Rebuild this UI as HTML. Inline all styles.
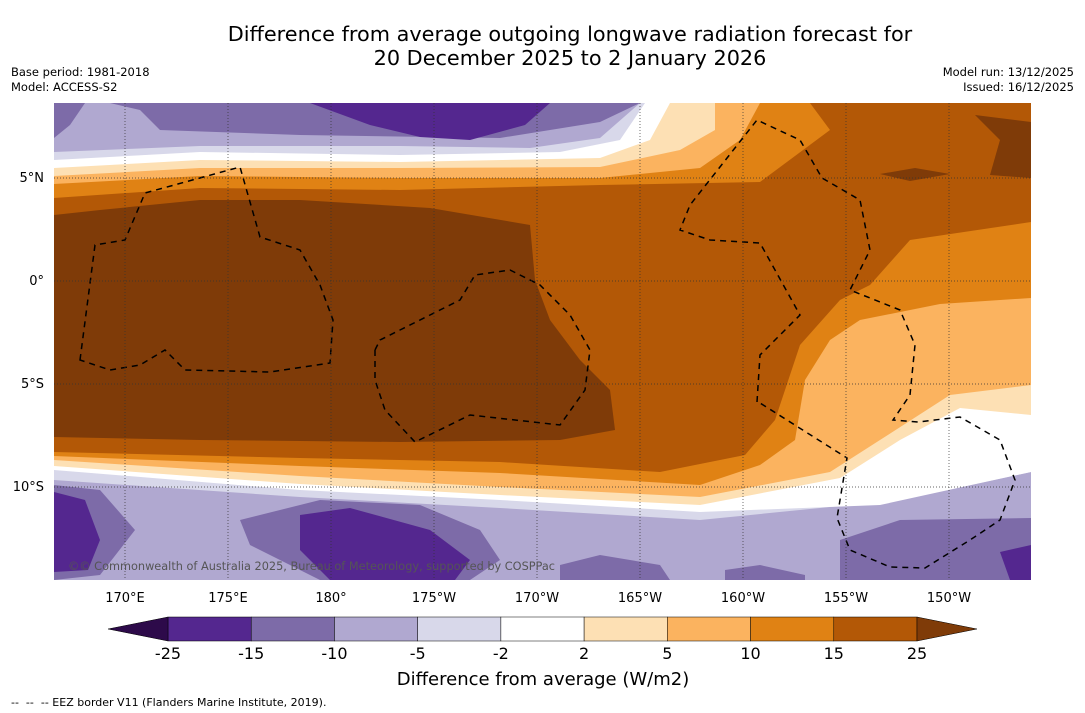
<!DOCTYPE html>
<html><head><meta charset="utf-8"><style>
body{margin:0;background:#fff;font-family:"DejaVu Sans","Liberation Sans",sans-serif;}
#wrap{position:relative;width:1085px;height:713px;overflow:hidden;background:#fff}
.t{position:absolute;color:#000;white-space:nowrap}
svg text{font-family:"DejaVu Sans","Liberation Sans",sans-serif;}
</style></head><body>
<div id="wrap">
<div class="t" style="left:0;width:1140px;top:22px;text-align:center;font-size:20.8px;line-height:24px">Difference from average outgoing longwave radiation forecast for<br>20 December 2025 to 2 January 2026</div>
<div class="t" style="left:11px;top:65px;font-size:11.5px;line-height:15px">Base period: 1981-2018<br>Model: ACCESS-S2</div>
<div class="t" style="right:11px;top:65px;font-size:11.5px;line-height:15px;text-align:right">Model run: 13/12/2025<br>Issued: 16/12/2025</div>
<svg id="map" width="1085" height="713" style="position:absolute;left:0;top:0">
<defs><clipPath id="mc"><rect x="54" y="103" width="977" height="477"/></clipPath></defs>
<g clip-path="url(#mc)">
<rect x="54" y="103" width="977" height="477" fill="#b0a8d0"/>
<path fill="#7d6ba8" d="M85,103 L640,103 L600,122 L500,138 L300,135 L160,130 L140,110 L110,103 Z M54,103 L85,103 L70,125 L54,138 Z"/>
<path fill="#54278f" d="M310,103 L550,103 L525,125 L470,140 L420,137 L370,125 Z"/>
<path fill="#d8d8ea" d="M54,152 L200,146 L400,146 L530,148 L600,138 L640,103 L1031,103 L1031,472 L900,500 L700,520 L500,508 L300,497 L54,480 Z"/>
<path fill="#ffffff" d="M54,160 L200,152 L400,155 L560,152 L620,140 L645,103 L1031,103 L1031,472 L880,505 L700,512 L500,500 L300,490 L54,470 Z"/>
<path fill="#fde0b4" d="M54,168 L200,160 L400,162 L600,158 L650,140 L670,103 L1031,103 L1031,415 L960,408 L900,440 L840,478 L700,505 L500,495 L300,484 L54,466 Z"/>
<path fill="#fbb35f" d="M54,176 L200,168 L400,168 L600,167 L680,150 L715,130 L715,103 L1031,103 L1031,385 L950,395 L880,440 L830,472 L700,497 L500,487 L300,476 L54,460 Z"/>
<path fill="#e08214" d="M54,184 L200,176 L400,178 L600,178 L700,168 L740,140 L760,103 L1031,103 L1031,298 L940,304 L860,320 L830,340 L805,380 L795,440 L760,465 L700,485 L500,473 L300,466 L54,456 Z"/>
<path fill="#b35806" d="M54,198 L200,188 L400,190 L600,185 L760,182 L830,130 L810,103 L1031,103 L1031,222 L910,240 L870,285 L840,300 L800,345 L775,420 L745,455 L660,472 L500,462 L300,458 L54,452 Z"/>
<path fill="#7f3b08" d="M54,215 L100,210 L200,200 L300,200 L430,208 L530,225 L535,280 L550,320 L580,360 L610,390 L615,430 L560,440 L400,442 L200,440 L54,437 Z M975,115 L1031,122 L1031,178 L990,175 L1000,140 Z M880,174 L915,168 L950,174 L910,181 Z"/>
<path fill="#7d6ba8" d="M54,485 L100,490 L135,530 L100,575 L54,580 Z M240,520 L320,500 L420,505 L480,530 L500,560 L470,580 L320,580 L250,545 Z M840,540 L900,520 L1031,518 L1031,580 L840,580 Z M560,565 L600,555 L660,565 L670,580 L560,580 Z M725,570 L760,565 L805,575 L805,580 L725,580 Z"/>
<path fill="#54278f" d="M54,492 L85,500 L100,540 L88,570 L54,572 Z M300,515 L350,508 L430,530 L470,560 L455,580 L330,580 L300,550 Z M1000,552 L1031,545 L1031,580 L1010,580 Z"/>
<path fill="none" stroke="#000" stroke-width="1.5" stroke-dasharray="6,5" d="M80,360 L95,245 L125,240 L145,193 L240,167 L260,237 L300,250 L320,285 L333,320 L330,363 L270,372 L185,370 L165,350 L140,365 L110,370 Z M375,350 L380,340 L460,300 L475,275 L510,270 L540,285 L570,315 L590,350 L585,390 L560,425 L470,415 L415,442 L385,410 L375,380 Z M757,402 L760,355 L800,315 L760,243 L710,240 L680,230 L690,205 L757,120 L800,140 L822,178 L860,200 L870,250 L850,290 L870,298 L900,310 L915,345 L910,395 L893,420 L918,422 L960,417 L1000,440 L1015,480 L1000,520 L970,540 L925,568 L890,567 L850,550 L837,518 L847,458 L760,403"/>
</g>
<g id="grid" stroke="#333" stroke-width="0.7" stroke-dasharray="1,2"></g>
<g id="ticks" font-size="13" fill="#000"></g>
<text x="68" y="570" font-size="11.3" fill="#555">©© Commonwealth of Australia 2025, Bureau of Meteorology, supported by COSPPac</text>
<g id="cbar"></g>
<text x="543" y="685" font-size="18" text-anchor="middle">Difference from average (W/m2)</text>
<text x="11" y="706" font-size="11" style="white-space:pre" xml:space="preserve">--  --  -- EEZ border V11 (Flanders Marine Institute, 2019).</text>
</svg>
</div>
<script>
const lonTicks=[170,175,180,185,190,195,200,205,210];
const lonLabels=["170°E","175°E","180°","175°W","170°W","165°W","160°W","155°W","150°W"];
const latTicks=[5,0,-5,-10];
const latLabels=["5°N","0°","5°S","10°S"];
const levels=[-25,-15,-10,-5,-2,2,5,10,15,25];
const levelColors=["#54278f","#7d6ba8","#b0a8d0","#d8d8ea","#ffffff","#fde0b4","#fbb35f","#e08214","#b35806"];
const extendColors=["#2d0a4a","#7f3b08"];
const NS="http://www.w3.org/2000/svg";
const xLon=l=>125+(l-170)*20.6;
const yLat=l=>281-l*20.6;
function mk(t,a,p){const e=document.createElementNS(NS,t);for(const k in a)e.setAttribute(k,a[k]);p.appendChild(e);return e;}
const grid=document.getElementById('grid'),ticks=document.getElementById('ticks');
lonTicks.forEach((l,i)=>{const g=mk('line',{x1:xLon(l),x2:xLon(l),y1:103,y2:580},grid);


const t=mk('text',{x:xLon(l),y:602,'text-anchor':'middle'},ticks);t.textContent=lonLabels[i];

});
latTicks.forEach((l,i)=>{const g=mk('line',{x1:54,x2:1031,y1:yLat(l),y2:yLat(l)},grid);


const t=mk('text',{x:44,y:yLat(l)+4,'text-anchor':'end'},ticks);t.textContent=latLabels[i];

});
const cb=document.getElementById('cbar');
const cx0=168,cx1=917,cy=617,ch=24,n=levels.length-1,w=(cx1-cx0)/n;
levelColors.forEach((c,i)=>{const r=mk('rect',{x:cx0+i*w,y:cy,width:w,height:ch,fill:c,stroke:'#000','stroke-width':0.5},cb);

});
const l1=mk('polygon',{points:`${cx0},${cy} 108,${cy+ch/2} ${cx0},${cy+ch}`,fill:extendColors[0],stroke:'#000','stroke-width':0.5},cb);


const l2=mk('polygon',{points:`${cx1},${cy} 977,${cy+ch/2} ${cx1},${cy+ch}`,fill:extendColors[1],stroke:'#000','stroke-width':0.5},cb);


levels.forEach((v,i)=>{const t=mk('text',{x:cx0+i*w,y:659,'text-anchor':'middle','font-size':16},cb);t.textContent=v;

});
</script>
</body></html>
